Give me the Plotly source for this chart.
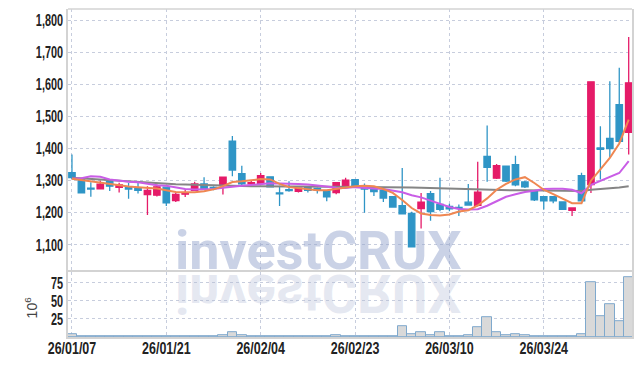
import plotly.graph_objects as go

dates = ["26/01/07","26/01/08","26/01/09","26/01/12","26/01/13","26/01/14","26/01/15","26/01/16","26/01/19","26/01/20",
         "26/01/21","26/01/22","26/01/23","26/01/26","26/01/27","26/01/28","26/01/29","26/01/30","26/02/02","26/02/03",
         "26/02/04","26/02/05","26/02/06","26/02/09","26/02/10","26/02/11","26/02/12","26/02/13","26/02/19","26/02/20",
         "26/02/23","26/02/24","26/02/25","26/02/26","26/02/27","26/03/03","26/03/04","26/03/05","26/03/06","26/03/09",
         "26/03/10","26/03/11","26/03/12","26/03/13","26/03/16","26/03/17","26/03/18","26/03/19","26/03/20","26/03/23",
         "26/03/24","26/03/25","26/03/26","26/03/27","26/03/30","26/03/31","26/04/01","26/04/02","26/04/03","26/04/06"]

open_ = [1325,1306,1277,1275,1298,1279,1280,1277,1257,1255,
         1280,1238,1258,1270,1290,1279,1286,1423,1322,1290,
         1291,1312,1262,1272,1267,1278,1276,1268,1263,1281,
         1303,1283,1278,1270,1250,1222,1198,1213,1260,1226,
         1220,1217,1233,1223,1376,1308,1345,1350,1296,1268,
         1250,1250,1234,1208,1316,1288,1402,1432,1537,1451]
high = [1382,1306,1295,1300,1300,1294,1293,1294,1283,1289,
        1282,1262,1272,1297,1311,1283,1313,1439,1347,1300,
        1324,1313,1284,1298,1279,1281,1279,1270,1296,1309,
        1305,1291,1283,1272,1250,1340,1203,1262,1268,1309,
        1228,1226,1290,1359,1472,1352,1347,1378,1299,1270,
        1252,1252,1236,1216,1325,1610,1470,1610,1652,1748]
low = [1305,1262,1250,1274,1268,1263,1244,1260,1193,1251,
       1221,1234,1249,1268,1272,1270,1257,1314,1287,1284,
       1290,1280,1221,1266,1263,1263,1260,1236,1258,1279,
       1281,1200,1252,1234,1218,1195,1094,1151,1175,1205,
       1205,1190,1222,1220,1297,1305,1296,1283,1277,1237,
       1210,1230,1209,1190,1236,1262,1304,1371,1420,1382]
close = [1310,1262,1274,1289,1283,1287,1274,1270,1270,1281,
         1231,1257,1263,1290,1274,1277,1311,1333,1290,1294,
         1316,1281,1259,1269,1277,1270,1271,1250,1294,1302,
         1283,1274,1266,1246,1218,1197,1094,1233,1204,1211,
         1212,1214,1224,1264,1342,1347,1299,1287,1281,1240,
         1237,1237,1211,1215,1237,1608,1398,1400,1423,1605]

ma_orange = [1306,1302,1298,1294,1290,1285,1282,1280,1278,1276,
             1270,1265,1264,1264,1267,1273,1283,1296,1298,1302,
             1305,1304,1290,1280,1276,1272,1270,1270,1274,1280,
             1283,1284,1283,1274,1262,1240,1215,1198,1193,1192,
             1195,1204,1208,1223,1245,1272,1290,1304,1311,1293,
             1272,1258,1244,1230,1230,1300,1335,1371,1416,1490]
ma_purple = [1306,1308,1314,1312,1304,1300,1297,1295,1290,1286,
             1284,1278,1274,1273,1273,1274,1278,1282,1284,1287,
             1290,1292,1291,1291,1290,1288,1286,1282,1278,1277,
             1280,1279,1276,1274,1270,1264,1255,1248,1238,1228,
             1218,1212,1210,1211,1222,1236,1250,1258,1265,1269,
             1274,1275,1275,1272,1261,1287,1300,1312,1324,1361]
ma_gray = [1309,1307,1305,1303,1301,1299,1297,1295,1293,1292,
           1290,1289,1288,1287,1286,1285,1284,1283,1283,1283,
           1283,1282,1282,1282,1282,1281,1281,1281,1281,1281,
           1281,1281,1281,1280,1280,1280,1279,1278,1277,1276,
           1275,1274,1273,1272,1271,1271,1271,1270,1270,1270,
           1270,1270,1269,1269,1268,1272,1274,1276,1279,1283]

volume = [4,0.5,0.5,0.5,0.5,0.5,1,0.5,0.5,0.5,
          1,0.5,0.5,0.5,0.5,0.5,2,7,2,0.5,
          0.5,0.5,0.5,0.5,0.5,0.5,0.5,0.5,2,0.5,
          0.5,0.5,0.5,0.5,1,15,4,7,3,7,
          0.5,0.5,3,14,28,6,2,4,2,1,
          1,0.5,0.5,0.5,4,76,29,46,22,83]

tick_labels = dates[::10]
price_ticks = [1100,1200,1300,1400,1500,1600,1700,1800]
vol_ticks = [25,50,75]

RED = "#e51b68"
BLUE = "#2f95c6"
GRID = "#c7cddd"
FRAME = "#d3d3d3"
TICKFONT = dict(family="Liberation Sans, Arial, sans-serif", size=16, color="#222222", weight="bold")

fig = go.Figure()

fig.add_trace(go.Bar(x=dates, y=volume, xaxis="x", yaxis="y2",
                     marker=dict(color="#d9d9d9", line=dict(color="#7fa9cd", width=1)),
                     showlegend=False, hoverinfo="skip"))

fig.add_trace(go.Candlestick(x=dates, open=open_, high=high, low=low, close=close,
                             xaxis="x", yaxis="y",
                             increasing=dict(line=dict(color=RED, width=1.3), fillcolor=RED),
                             decreasing=dict(line=dict(color=BLUE, width=1.3), fillcolor=BLUE),
                             showlegend=False))

fig.add_trace(go.Scatter(x=dates, y=ma_gray, mode="lines", line=dict(color="#858585", width=2),
                         xaxis="x", yaxis="y", showlegend=False))
fig.add_trace(go.Scatter(x=dates, y=ma_purple, mode="lines", line=dict(color="#c95de6", width=2),
                         xaxis="x", yaxis="y", showlegend=False))
fig.add_trace(go.Scatter(x=dates, y=ma_orange, mode="lines", line=dict(color="#ef8752", width=2),
                         xaxis="x", yaxis="y", showlegend=False))

VSPLIT = 0.1976

fig.update_layout(
    width=642, height=366,
    margin=dict(l=68, r=10, t=9, b=29),
    paper_bgcolor="white", plot_bgcolor="white",
    bargap=0, boxgap=0.3, boxgroupgap=0.03,
    xaxis=dict(type="category", anchor="y2", range=[-0.42, 59.35], automargin=False,
               tickvals=tick_labels, ticktext=tick_labels,
               showgrid=True, gridcolor=GRID, griddash="dot", gridwidth=1,
               showline=True, linecolor=FRAME, linewidth=1.5, mirror=True,
               ticks="", tickfont=TICKFONT, rangeslider=dict(visible=False)),
    yaxis=dict(domain=[VSPLIT, 1], range=[1015, 1835], tickvals=price_ticks, tickformat=",d",
               automargin=False,
               showgrid=True, gridcolor=GRID, griddash="dot", gridwidth=1,
               showline=True, linecolor=FRAME, linewidth=1.5, mirror=True,
               ticks="", tickfont=TICKFONT, zeroline=False),
    yaxis2=dict(domain=[0, VSPLIT], range=[0, 90], tickvals=vol_ticks, automargin=False,
                showgrid=True, gridcolor=GRID, griddash="dot", gridwidth=1,
                showline=True, linecolor=FRAME, linewidth=1.5, mirror=True,
                ticks="", tickfont=TICKFONT, zeroline=False),
    shapes=[dict(type="line", xref="paper", yref="paper", x0=0, x1=1, y0=1, y1=1,
                 line=dict(color=FRAME, width=1.5))],
    annotations=[
        dict(text="investCRUX", xref="paper", yref="paper", x=0.4445, y=VSPLIT, yanchor="bottom",
             xanchor="center", yshift=-12, showarrow=False,
             font=dict(family="Roboto, Liberation Sans, sans-serif", size=54, weight="bold",
                       color="rgba(150,165,205,0.5)")),
        dict(text="investCRUX", xref="paper", yref="paper", x=0.4445, y=VSPLIT, yanchor="top",
             xanchor="center", yshift=12, showarrow=False,
             font=dict(family="Roboto, Liberation Sans, sans-serif", size=54, weight="bold",
                       color="rgba(180,190,215,0.35)")),
        dict(text="10<sup>6</sup>", xref="paper", yref="paper", x=-0.064, y=0.09,
             xanchor="center", yanchor="middle", textangle=-90, showarrow=False,
             font=dict(family="Liberation Sans, Arial, sans-serif", size=14, color="#444444")),
    ],
)

post = """
document.documentElement.style.margin = '0';
document.body.style.margin = '0';
document.body.style.overflow = 'hidden';
var gd = document.getElementById('{plot_id}');
function addT(t, extra){
  var tr = t.getAttribute('transform') || '';
  t.setAttribute('transform', tr + ' ' + extra);
}
gd.querySelectorAll('.annotation').forEach(function(a){
  if (a.getAttribute('data-index') === '1') {
    var t = a.querySelector('text');
    if (t) {
      var b = t.getBBox();
      var cy = b.y + b.height / 2;
      addT(t, 'translate(0,' + cy + ') scale(1,-1) translate(0,' + (-cy) + ')');
    }
  }
});
function squeeze(sel, s, right, dy){
  gd.querySelectorAll(sel).forEach(function(t){
    var b = t.getBBox();
    var ax = right ? (b.x + b.width) : (b.x + b.width / 2);
    addT(t, 'translate(' + ax + ',' + dy + ') scale(' + s + ',1) translate(' + (-ax) + ',0)');
  });
}
squeeze('.ytick text, .y2tick text', 0.68, true, 0);
squeeze('.xtick text', 0.78, false, -4);
"""

fig.write_html("out.html", post_script=post, config={"displayModeBar": False})
